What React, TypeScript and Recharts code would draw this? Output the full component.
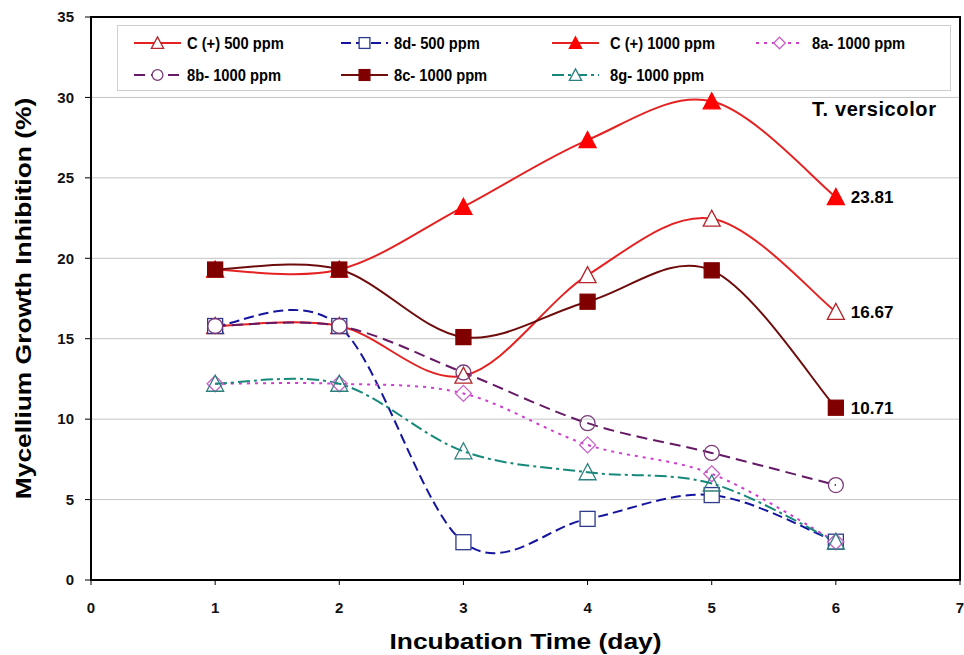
import {
  CartesianGrid,
  Label,
  Line,
  LineChart,
  ReferenceArea,
  XAxis,
  YAxis,
} from "recharts";

// incubation days and inhibition values (%)
const DAYS = [1, 2, 3, 4, 5, 6];
const C_500 = [15.79, 15.79, 12.7, 18.95, 22.46, 16.67];
const D8_500 = [15.79, 15.79, 2.35, 3.8, 5.28, 2.38];
const C_1000 = [19.3, 19.3, 23.2, 27.35, 29.76, 23.81];
const A8_1000 = [12.2, 12.2, 11.6, 8.4, 6.6, 2.38];
const B8_1000 = [15.79, 15.79, 12.9, 9.75, 7.9, 5.9];
const C8_1000 = [19.3, 19.3, 15.1, 17.3, 19.25, 10.71];
const G8_1000 = [12.2, 12.2, 8.0, 6.7, 6.0, 2.38];

const X_TICKS = [0, 1, 2, 3, 4, 5, 6, 7];
const Y_TICKS = [0, 5, 10, 15, 20, 25, 30, 35];

const FONT = 'Arial, "Liberation Sans", sans-serif';

type Shape = "triangle" | "square" | "circle" | "diamond";

interface Series {
  key: string;
  name: string;
  values: number[];
  stroke: string;
  dash?: string;
  shape: Shape;
  fill: string;
  markerStroke: string;
  showLast?: boolean;
}

const SERIES: Series[] = [
  { key: "c500", name: "C (+) 500 ppm", values: C_500, stroke: "#e52222", shape: "triangle", fill: "#fff", markerStroke: "#b3262a", showLast: true },
  { key: "d8", name: "8d- 500 ppm", values: D8_500, stroke: "#1414a0", dash: "10 5", shape: "square", fill: "#fff", markerStroke: "#2e3a8c" },
  { key: "c1000", name: "C (+) 1000 ppm", values: C_1000, stroke: "#e52222", shape: "triangle", fill: "#ff0000", markerStroke: "#ff0000", showLast: true },
  { key: "a8", name: "8a- 1000 ppm", values: A8_1000, stroke: "#d03cd0", dash: "3 5", shape: "diamond", fill: "none", markerStroke: "#c860c8" },
  { key: "b8", name: "8b- 1000 ppm", values: B8_1000, stroke: "#661a66", dash: "11 6", shape: "circle", fill: "none", markerStroke: "#7a3a7a" },
  { key: "c8", name: "8c- 1000 ppm", values: C8_1000, stroke: "#6e0c0c", shape: "square", fill: "#800000", markerStroke: "#800000", showLast: true },
  { key: "g8", name: "8g- 1000 ppm", values: G8_1000, stroke: "#16897a", dash: "12 4 3 4", shape: "triangle", fill: "none", markerStroke: "#2f7f7f" },
];

const chartData = DAYS.map((day, i) => {
  const row: Record<string, number> = { day };
  SERIES.forEach((s) => {
    row[s.key] = s.values[i];
  });
  return row;
});

// Excel-like smoothed line: cubic bezier through every point
const excelSmooth = (ctx: any) => {
  let pts: number[][] = [];
  return {
    areaStart() {},
    areaEnd() {},
    lineStart() {
      pts = [];
    },
    point(x: number, y: number) {
      pts.push([+x, +y]);
    },
    lineEnd() {
      const n = pts.length;
      if (!n) return;
      ctx.moveTo(pts[0][0], pts[0][1]);
      for (let i = 0; i < n - 1; i++) {
        const p0 = pts[Math.max(i - 1, 0)];
        const p1 = pts[i];
        const p2 = pts[i + 1];
        const p3 = pts[Math.min(i + 2, n - 1)];
        ctx.bezierCurveTo(
          p1[0] + (p2[0] - p0[0]) / 6,
          p1[1] + (p2[1] - p0[1]) / 6,
          p2[0] - (p3[0] - p1[0]) / 6,
          p2[1] - (p3[1] - p1[1]) / 6,
          p2[0],
          p2[1]
        );
      }
    },
  };
};

function Marker({ cx, cy, shape, fill, stroke, scale = 1 }: {
  cx: number; cy: number; shape: Shape; fill: string; stroke: string; scale?: number;
}) {
  const s = scale;
  const common = { fill, stroke, strokeWidth: 1.3 };
  if (shape === "triangle") {
    return (
      <polygon
        points={`${cx},${cy - 8.5 * s} ${cx - 8.5 * s},${cy + 7.5 * s} ${cx + 8.5 * s},${cy + 7.5 * s}`}
        {...common}
      />
    );
  }
  if (shape === "square") {
    return <rect x={cx - 7.5 * s} y={cy - 7.5 * s} width={15 * s} height={15 * s} {...common} />;
  }
  if (shape === "circle") {
    return <circle cx={cx} cy={cy} r={7.5 * s} {...common} />;
  }
  return (
    <polygon
      points={`${cx},${cy - 8 * s} ${cx + 8 * s},${cy} ${cx},${cy + 8 * s} ${cx - 8 * s},${cy}`}
      {...common}
    />
  );
}

const LEGEND_LINE_X = [16, 223, 434, 638];
const LEGEND_TEXT_X = [69, 276, 492, 694];
const LEGEND_ROW_Y = [17, 49];

function ChartLegend() {
  return (
    <div
      style={{
        position: "absolute",
        left: 117,
        top: 25,
        width: 832,
        height: 64,
        border: "1px solid #cfcfcf",
        background: "#fff",
      }}
    >
      <svg width={832} height={64}>
        {SERIES.map((s, i) => {
          const col = i < 4 ? i : i - 4;
          const y = LEGEND_ROW_Y[i < 4 ? 0 : 1];
          const x0 = LEGEND_LINE_X[col];
          return (
            <g key={s.key}>
              <line x1={x0} x2={x0 + 47} y1={y} y2={y} stroke={s.stroke} strokeWidth={2} strokeDasharray={s.dash} />
              <Marker cx={x0 + 23.5} cy={y} shape={s.shape} fill={s.fill === "none" ? "#fff" : s.fill} stroke={s.markerStroke} scale={0.72} />
              <text
                transform={`translate(${LEGEND_TEXT_X[col]} ${y}) scale(0.92 1)`}
                dy="0.36em"
                fontFamily={FONT}
                fontSize={16}
                fontWeight="bold"
                fill="#000"
              >
                {s.name}
              </text>
            </g>
          );
        })}
      </svg>
    </div>
  );
}

const tickStyle = { fontFamily: FONT, fontSize: 15, fontWeight: "bold", fill: "#111" };

export default function App() {
  const last = DAYS.length - 1;
  return (
    <div style={{ position: "relative", width: 964, height: 655, fontFamily: FONT }}>
      <style>{"body{margin:0}"}</style>
      <LineChart width={964} height={655} data={chartData} margin={{ top: 17, right: 4, left: 0, bottom: 0 }}>
        <CartesianGrid vertical={false} stroke="#c4c4c4" strokeWidth={1} />
        <XAxis
          dataKey="day"
          type="number"
          domain={[0, 7]}
          ticks={X_TICKS}
          interval={0}
          height={75}
          tickSize={5}
          tickMargin={17}
          tick={tickStyle}
          tickLine={{ stroke: "#000" }}
          axisLine={{ stroke: "#000", strokeWidth: 2 }}
        >
          <Label
            content={(p: any) => {
              const vb = p.viewBox || {};
              const cx = vb.x + vb.width / 2;
              const cy = vb.y + 69;
              return (
                <text
                  transform={`translate(${cx} ${cy}) scale(1.2 1)`}
                  textAnchor="middle"
                  fontFamily={FONT}
                  fontSize={22}
                  fontWeight="bold"
                  fill="#000"
                >
                  Incubation Time (day)
                </text>
              );
            }}
          />
        </XAxis>
        <YAxis
          type="number"
          domain={[0, 35]}
          ticks={Y_TICKS}
          interval={0}
          width={91}
          tickSize={6}
          tickMargin={11}
          tick={tickStyle}
          tickLine={{ stroke: "#000" }}
          axisLine={{ stroke: "#000", strokeWidth: 2 }}
        >
          <Label
            content={(p: any) => {
              const vb = p.viewBox || {};
              const cx = 23;
              const cy = vb.y + vb.height / 2;
              return (
                <text
                  transform={`translate(${cx} ${cy}) rotate(-90) scale(1.2 1)`}
                  textAnchor="middle"
                  dominantBaseline="central"
                  fontFamily={FONT}
                  fontSize={22}
                  fontWeight="bold"
                  fill="#000"
                >
                  Mycellium Growth Inhibition (%)
                </text>
              );
            }}
          />
        </YAxis>
        <ReferenceArea x1={0} x2={7} y1={0} y2={35} fill="none" stroke="#000" strokeWidth={2} ifOverflow="visible" />
        {SERIES.map((s) => (
          <Line
            key={s.key}
            dataKey={s.key}
            name={s.name}
            type={excelSmooth as any}
            stroke={s.stroke}
            strokeWidth={2}
            strokeDasharray={s.dash}
            isAnimationActive={false}
            activeDot={false}
            dot={(p: any) => (
              <g key={`${s.key}-${p.index}`}>
                <Marker cx={p.cx} cy={p.cy} shape={s.shape} fill={s.fill} stroke={s.markerStroke} />
                {s.showLast && p.index === last ? (
                  <text
                    x={p.cx + 15}
                    y={p.cy}
                    dy="0.36em"
                    fontFamily={FONT}
                    fontSize={17}
                    fontWeight="bold"
                    fill="#000"
                  >
                    {s.values[last].toFixed(2)}
                  </text>
                ) : null}
              </g>
            )}
          />
        ))}
      </LineChart>
      <ChartLegend />
      <div
        style={{
          position: "absolute",
          left: 812,
          top: 98,
          fontFamily: FONT,
          fontSize: 20,
          fontWeight: "bold",
          letterSpacing: 0.6,
          color: "#000",
          whiteSpace: "nowrap",
        }}
      >
        T. versicolor
      </div>
    </div>
  );
}
